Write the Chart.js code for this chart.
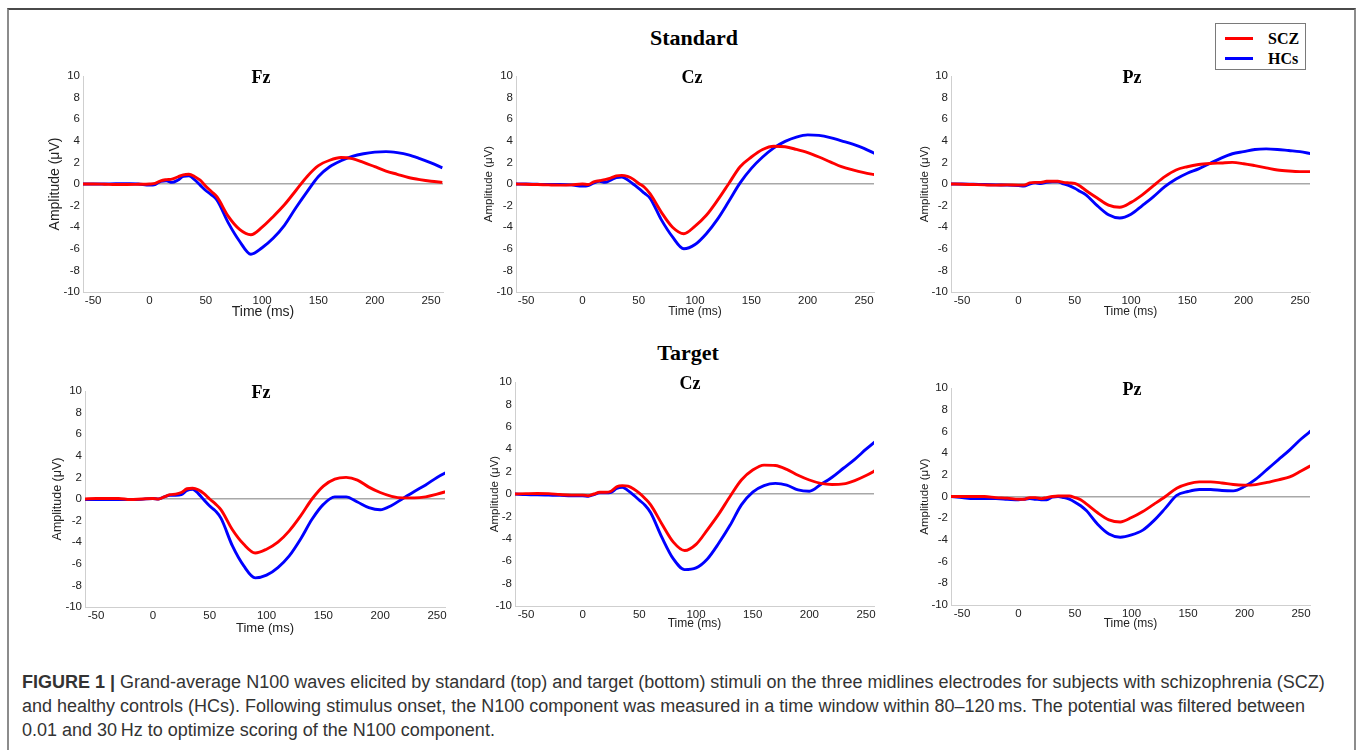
<!DOCTYPE html>
<html>
<head>
<meta charset="utf-8">
<script src="https://cdn.jsdelivr.net/npm/chart.js@4.4.1/dist/chart.umd.min.js"></script>
<style>
  body { margin: 0; background: #fff; width: 1358px; height: 750px; overflow: hidden; position: relative; font-family: "Liberation Sans", Arial, sans-serif; }
  #frame { position: absolute; left: 7px; top: 8px; width: 1345px; height: 800px; border-top: 2px solid #4a4a4a; border-left: 2px solid #8c8c8c; border-right: 2px solid #8c8c8c; }
  canvas { position: absolute; }
  .ttl { position: absolute; font-family: "Liberation Serif", "Times New Roman", serif; font-weight: bold; color: #000; transform: translate(-50%, -50%); white-space: nowrap; }
  #legend { position: absolute; left: 1215px; top: 23px; width: 91px; height: 47px; border: 1px solid #7a7a7a; box-sizing: border-box; background: #fff; }
  #legend .row { position: absolute; left: 0; height: 20px; width: 100%; }
  #legend .sw { position: absolute; left: 9px; width: 28px; height: 3px; top: 8px; }
  #legend .lb { position: absolute; left: 52px; top: 0; font: bold 16px "Liberation Serif", "Times New Roman", serif; line-height: 20px; }
  #caption { position: absolute; left: 22px; top: 670px; color: #333; }
  #caption div { white-space: nowrap; height: 24px; line-height: 24px; }
</style>
</head>
<body>
<div id="frame"></div>

<div class="ttl" style="left:694px;top:38px;font-size:22px">Standard</div>
<div class="ttl" style="left:688px;top:353px;font-size:22px">Target</div>

<div id="legend">
  <div class="row" style="top:5px"><div class="sw" style="background:#ff0000"></div><div class="lb">SCZ</div></div>
  <div class="row" style="top:25px"><div class="sw" style="background:#0000ff"></div><div class="lb">HCs</div></div>
</div>

<div id="caption">
  <div id="capLine1"><b>FIGURE 1 |</b> Grand-average N100 waves elicited by standard (top) and target (bottom) stimuli on the three midlines electrodes for subjects with schizophrenia (SCZ)</div>
  <div>and healthy controls (HCs). Following stimulus onset, the N100 component was measured in a time window within 80–120&#8201;ms. The potential was filtered between</div>
  <div>0.01 and 30&#8201;Hz to optimize scoring of the N100 component.</div>
</div>

<script>
// time axis (ms) shared by every curve
const timeMs = [-60,-50,-40,-30,-20,-10,0,5,10,15,20,25,30,35,40,45,50,55,60,70,80,90,100,110,120,130,140,150,160,170,180,190,200,210,220,230,240,250,260];
const xTickValues = [-50, 0, 50, 100, 150, 200, 250];
const yTickValues = [-10, -8, -6, -4, -2, 0, 2, 4, 6, 8, 10];
const seriesNames = ["SCZ", "HCs"];

// Standard stimuli
const stdFzSCZ = [0,0,-0.02,-0.05,-0.05,-0.03,0,0.05,0.3,0.4,0.45,0.65,0.85,0.9,0.7,0.35,-0.2,-0.7,-1.2,-3.0,-4.2,-4.7,-4.0,-3.0,-1.9,-0.6,0.7,1.7,2.2,2.45,2.35,2.0,1.6,1.2,0.9,0.6,0.4,0.25,0.15];
const stdFzHC  = [0,0,0,0.03,0.02,0,-0.1,-0.05,0.25,0.3,0.15,0.35,0.7,0.75,0.4,-0.1,-0.6,-1.0,-1.5,-3.6,-5.3,-6.5,-5.9,-5.0,-3.8,-2.2,-0.7,0.7,1.6,2.15,2.55,2.8,2.95,3.0,2.9,2.7,2.35,1.95,1.5];
const stdCzSCZ = [0,-0.03,-0.05,-0.08,-0.1,-0.08,0,-0.05,0.2,0.3,0.4,0.55,0.75,0.8,0.7,0.45,0.05,-0.3,-0.9,-2.6,-4.0,-4.6,-3.9,-2.9,-1.5,0.05,1.6,2.5,3.2,3.5,3.45,3.2,2.9,2.5,2.05,1.6,1.3,1.05,0.85];
const stdCzHC  = [0,0,-0.03,-0.05,-0.05,-0.08,-0.2,-0.15,0.1,0.25,0.15,0.35,0.6,0.65,0.4,0.0,-0.4,-0.85,-1.3,-3.3,-4.9,-6.0,-5.6,-4.6,-3.25,-1.6,0.1,1.45,2.5,3.35,3.95,4.35,4.55,4.5,4.3,4.0,3.7,3.3,2.8];
const stdPzSCZ = [0,-0.02,-0.05,-0.08,-0.1,-0.08,-0.1,-0.1,0.1,0.15,0.15,0.25,0.25,0.25,0.15,0.1,0.05,-0.2,-0.6,-1.3,-1.95,-2.15,-1.7,-1.0,-0.15,0.68,1.3,1.6,1.8,1.9,1.95,2.0,1.88,1.7,1.5,1.3,1.2,1.15,1.15];
const stdPzHC  = [0,0,-0.03,-0.05,-0.08,-0.1,-0.15,-0.2,0,0.1,0.05,0.15,0.2,0.2,0.0,-0.15,-0.4,-0.7,-1.0,-2.0,-2.85,-3.15,-2.8,-2.0,-1.17,-0.25,0.46,1.0,1.4,1.9,2.4,2.8,3.0,3.2,3.25,3.2,3.1,3.0,2.8];

// Target stimuli
const tgtFzSCZ = [0,0.05,0.05,0.05,-0.05,0,0.05,0,0.2,0.4,0.45,0.6,0.95,1.0,0.85,0.5,0.0,-0.45,-1.0,-2.85,-4.2,-5.0,-4.65,-4.0,-2.95,-1.57,0,1.2,1.85,2.0,1.75,1.1,0.6,0.25,0.1,0.1,0.2,0.45,0.75];
const tgtFzHC  = [-0.05,-0.05,-0.05,-0.05,-0.05,-0.03,0.05,0,0.2,0.35,0.35,0.4,0.8,0.9,0.5,-0.1,-0.65,-1.1,-1.8,-4.35,-6.2,-7.3,-7.05,-6.35,-5.27,-3.7,-1.88,-0.5,0.2,0.2,-0.28,-0.8,-1.0,-0.6,0.05,0.7,1.3,2.0,2.55];
const tgtCzSCZ = [0,0.03,0.05,0.03,-0.05,-0.1,-0.1,-0.15,0,0.15,0.15,0.25,0.65,0.75,0.7,0.45,0.08,-0.4,-0.97,-2.7,-4.3,-5.05,-4.5,-3.2,-1.8,-0.22,1.25,2.14,2.58,2.55,2.2,1.67,1.25,0.95,0.85,0.9,1.2,1.65,2.2];
const tgtCzHC  = [0,-0.05,-0.08,-0.1,-0.12,-0.15,-0.15,-0.2,-0.05,0.1,0.1,0.15,0.5,0.6,0.3,-0.1,-0.55,-1.0,-1.67,-3.9,-5.8,-6.75,-6.6,-5.8,-4.4,-2.8,-0.97,0.17,0.75,0.95,0.8,0.36,0.25,0.85,1.5,2.3,3.1,4.0,4.85];
const tgtPzSCZ = [0,0,0,0,-0.1,-0.15,-0.25,-0.25,-0.1,-0.1,-0.2,-0.1,0.0,0.05,0.05,0.05,-0.1,-0.3,-0.68,-1.5,-2.15,-2.35,-1.94,-1.38,-0.7,0,0.77,1.17,1.35,1.35,1.25,1.1,1.05,1.1,1.3,1.54,1.8,2.35,2.92];
const tgtPzHC  = [0,-0.1,-0.2,-0.2,-0.2,-0.25,-0.3,-0.25,-0.2,-0.25,-0.3,-0.3,-0.05,0.0,-0.1,-0.25,-0.52,-0.85,-1.3,-2.55,-3.45,-3.75,-3.54,-3.1,-2.2,-1.07,0.1,0.46,0.65,0.65,0.55,0.52,0.92,1.6,2.5,3.4,4.3,5.3,6.15];

const PAD_T = 10;
const PAD_R = 10;
const SANS = '"Liberation Sans", Arial, sans-serif';

// panel placement: axis line x, plot right/top/bottom, canvas left, x-axis band height
const panels = [
  { name: "Fz", scz: stdFzSCZ, hc: stdFzHC, left: 47, axisX: 83,  right: 443,  top: 76,  bottom: 292, xH: 29, xMin: -59, xMax: 260.6, ytSize: 14,   xtSize: 14,   titleX: 261 },
  { name: "Cz", scz: stdCzSCZ, hc: stdCzHC, left: 482, axisX: 516, right: 874,  top: 76,  bottom: 292, xH: 27, xMin: -59, xMax: 258.9, ytSize: 11.5, xtSize: 12,   titleX: 692 },
  { name: "Pz", scz: stdPzSCZ, hc: stdPzHC, left: 918, axisX: 951, right: 1310, top: 76,  bottom: 292, xH: 27, xMin: -59.8, xMax: 258.9, ytSize: 11.5, xtSize: 12, titleX: 1132 },
  { name: "Fz", scz: tgtFzSCZ, hc: tgtFzHC, left: 50, axisX: 85,  right: 445,  top: 391, bottom: 607, xH: 29, xMin: -59.7, xMax: 257, ytSize: 12.5, xtSize: 13,   titleX: 261 },
  { name: "Cz", scz: tgtCzSCZ, hc: tgtCzHC, left: 488, axisX: 515, right: 874,  top: 382, bottom: 606, xH: 25, xMin: -59.7, xMax: 257, ytSize: 11.5, xtSize: 12,   titleX: 690 },
  { name: "Pz", scz: tgtPzSCZ, hc: tgtPzHC, left: 918, axisX: 951, right: 1310, top: 388, bottom: 605, xH: 26, xMin: -59.7, xMax: 257.9, ytSize: 11.5, xtSize: 12, titleX: 1132 }
];

function toXY(values) {
  return values.map((v, i) => ({ x: timeMs[i], y: v }));
}

function makePanel(p) {
  const yW = p.axisX - p.left;
  const w = yW + (p.right - p.axisX) + PAD_R;
  const h = PAD_T + (p.bottom - p.top) + p.xH;
  const c = document.createElement("canvas");
  c.width = w; c.height = h;
  c.style.left = p.left + "px";
  c.style.top = (p.top - PAD_T) + "px";
  c.style.width = w + "px";
  c.style.height = h + "px";
  document.body.appendChild(c);

  const t = document.createElement("div");
  t.className = "ttl";
  t.style.left = p.titleX + "px";
  t.style.top = (p.top + 1) + "px";
  t.style.fontSize = "18px";
  t.textContent = p.name;
  document.body.appendChild(t);

  new Chart(c, {
    type: "line",
    data: {
      datasets: [
        { label: seriesNames[0], data: toXY(p.scz), borderColor: "#ff0000", backgroundColor: "#ff0000" },
        { label: seriesNames[1], data: toXY(p.hc), borderColor: "#0000ff", backgroundColor: "#0000ff" }
      ]
    },
    options: {
      responsive: false,
      animation: false,
      devicePixelRatio: 1,
      layout: { padding: { top: PAD_T, right: PAD_R, left: 0, bottom: 0 } },
      plugins: { legend: { display: false }, tooltip: { enabled: false } },
      elements: {
        point: { radius: 0 },
        line: { borderWidth: 2.9, cubicInterpolationMode: "monotone" }
      },
      scales: {
        x: {
          type: "linear",
          min: p.xMin,
          max: p.xMax,
          afterBuildTicks: s => { s.ticks = xTickValues.map(v => ({ value: v })); },
          afterFit: s => { s.height = p.xH; s.paddingLeft = 0; s.paddingRight = 0; },
          grid: { display: true, drawTicks: false, color: "rgba(0,0,0,0)" },
          border: { color: "#cfcfcf", width: 1 },
          ticks: { color: "#222", font: { size: 11.5, family: SANS }, padding: 2, maxRotation: 0, autoSkip: false },
          title: { display: true, text: "Time (ms)", color: "#222", font: { size: p.xtSize, family: SANS }, padding: 0 }
        },
        y: {
          min: -10,
          max: 10,
          afterBuildTicks: s => { s.ticks = yTickValues.map(v => ({ value: v })); },
          afterFit: s => { s.width = yW; s.paddingTop = 0; s.paddingBottom = 0; },
          grid: {
            drawTicks: false,
            lineWidth: 1.4,
            color: ctx => (ctx.tick && ctx.tick.value === 0 ? "#a8a8a8" : "rgba(0,0,0,0)")
          },
          border: { color: "#cfcfcf", width: 1 },
          ticks: { color: "#222", font: { size: 11.5, family: SANS }, padding: 3, autoSkip: false },
          title: { display: true, text: "Amplitude (μV)", color: "#222", font: { size: p.ytSize, family: SANS }, padding: 0 }
        }
      }
    }
  });
}

panels.forEach(makePanel);

// fit caption width to the reference line length
const capBox = document.getElementById("caption");
const line1 = document.getElementById("capLine1");
let fs = 16.5;
capBox.style.fontSize = fs + "px";
const target = 1303;
fs = fs * target / line1.getBoundingClientRect().width;
capBox.style.fontSize = fs.toFixed(2) + "px";
</script>
</body>
</html>
